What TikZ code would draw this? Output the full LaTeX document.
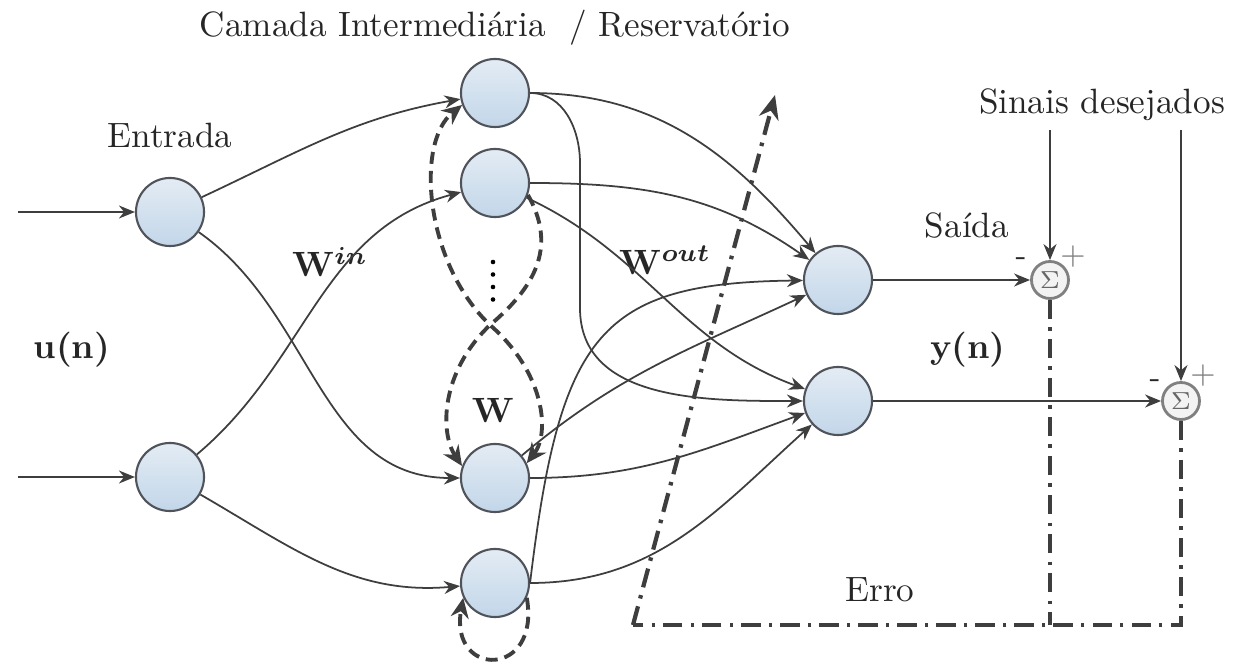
\documentclass[tikz,border=0pt]{standalone}
\usepackage{amsmath,amssymb,bm}
\usetikzlibrary{arrows.meta}
\definecolor{LineGray}{RGB}{62,62,62}
\definecolor{CellTop}{RGB}{228,236,244}
\definecolor{CellBottom}{RGB}{194,214,233}
\definecolor{CellRim}{RGB}{80,84,90}
\definecolor{SumFill}{RGB}{243,243,243}
\tikzset{
  cell/.style={circle,draw=CellRim,line width=0.6pt,top color=CellTop,bottom color=CellBottom,minimum size=0.68cm,inner sep=0pt},
  sumnode/.style={circle,draw=gray,line width=0.8pt,fill=SumFill,minimum size=0.37cm,inner sep=0pt,font=\scriptsize,text=black!60},
  link/.style={LineGray,line width=0.5pt,-{Stealth[length=1.6mm,width=1.3mm]}},
  recur/.style={LineGray,line width=1.1pt,dash pattern=on 3.4pt off 2pt},
  errline/.style={LineGray,line width=1.2pt,dash pattern=on 5.5pt off 2.3pt on 1pt off 2.3pt},
  sign/.style={font=\small,inner sep=0pt},
}
\begin{document}
\begin{tikzpicture}[x=0.01cm,y=0.01cm,text=black!85]
  \useasboundingbox (0,0) rectangle (1235,663);
  % neurons
  \node[cell] (I1) at (170,451) {};
  \node[cell] (I2) at (170,186) {};
  \node[cell] (R1) at (495,570) {};
  \node[cell] (R2) at (495,480) {};
  \node[cell] (R3) at (495,185) {};
  \node[cell] (R4) at (495,80) {};
  \node[cell] (O1) at (838,383) {};
  \node[cell] (O2) at (838,262) {};
  \node[sumnode] (S1) at (1050,383) {$\Sigma$};
  \node[sumnode] (S2) at (1181,262) {$\Sigma$};
  \node[sign] at ([shift={(-29,18)}]S1) {-};
  \node[sign,text=black!50] at ([shift={(23,23)}]S1) {+};
  \node[sign] at ([shift={(-26,17)}]S2) {-};
  \node[sign,text=black!50] at ([shift={(22,25)}]S2) {+};
  % labels
  \node (title) at (495,635) {Camada Intermediária~ / Reservatório};
  \node (entrada) at (170,528) {Entrada};
  \node (uin) at (72,313) {\textbf{u(n)}};
  \node (win) at (330,401) {$\mathbf{W}^{\bm{in}}$};
  \node (wres) at (493,253) {$\mathbf{W}$};
  \foreach \k in {0,...,3}
    \fill (493,401-\k*12.5) circle (2.3);
  \node (wout) at (665,403) {$\mathbf{W}^{\bm{out}}$};
  \node (saida) at (967,438) {Saída};
  \node (yout) at (968,313) {\textbf{y(n)}};
  \node (desired) at (1102,558) {Sinais desejados};
  \node (erro) at (880,73) {Erro};
  % inputs
  \coordinate (u1) at (18,451);
  \coordinate (u2) at (18,186);
  \draw[link] (u1) -- (I1);
  \draw[link] (u2) -- (I2);
  \draw[link] (I1) to[out=25,in=190] (R1);
  \draw[link] (I1) to[out=-35,in=180] (R3);
  \draw[link] (I2) to[out=40,in=195] (R2);
  \draw[link] (I2) to[out=-30,in=185] (R4);
  % reservoir to output
  \draw[link] (R1) to[out=0,in=130] (O1);
  \draw[link] (R1) to[out=0,in=90] (580,500) -- (580,355) to[out=-90,in=180] (O2);
  \draw[link] (R2) to[out=0,in=145] (O1);
  \draw[link] (R2) to[out=-25,in=160] (O2);
  \draw[link] (R3) to[out=40,in=205] (O1);
  \draw[link] (R3) to[out=0,in=200] (O2);
  \draw[link] (R4.east) .. controls (560,330) and (600,380) .. (O1);
  \draw[link] (R4) to[out=0,in=222] (O2);
  % recurrent links
  \coordinate (xing) at (490,338);
  \draw[recur,{Stealth[length=2mm,width=1.8mm]}-{Stealth[length=2mm,width=1.8mm]}] (R3.25) .. controls (550,230) and (545,290) .. (xing) .. controls (425,400) and (415,520) .. (R1.200);
  \draw[recur,-{Stealth[length=2mm,width=1.8mm]}] (R2.-20) .. controls (555,420) and (540,380) .. (xing) .. controls (440,290) and (440,230) .. (R3.160);
  \draw[recur,-{Stealth[length=2mm,width=1.8mm]}] (R4.-25) to[out=-80,in=-100,looseness=3.3] (R4.205);
  % output and error
  \draw[link] (O1) -- (S1);
  \draw[link] (O2) -- (S2);
  \coordinate (d1) at (1050,533);
  \coordinate (d2) at (1181,533);
  \draw[link] (d1) -- (S1);
  \draw[link] (d2) -- (S2);
  \coordinate (ecorner) at (633,38);
  \coordinate (etip) at (775,568);
  \coordinate (e1) at (1050,38);
  \coordinate (e2) at (1181,38);
  \draw[errline,-{Stealth[length=2.4mm,width=2mm]}] (ecorner) -- (etip);
  \draw[errline] (S1) -- (e1);
  \draw[errline] (S2) -- (e2) -- (ecorner);
\end{tikzpicture}
\end{document}
